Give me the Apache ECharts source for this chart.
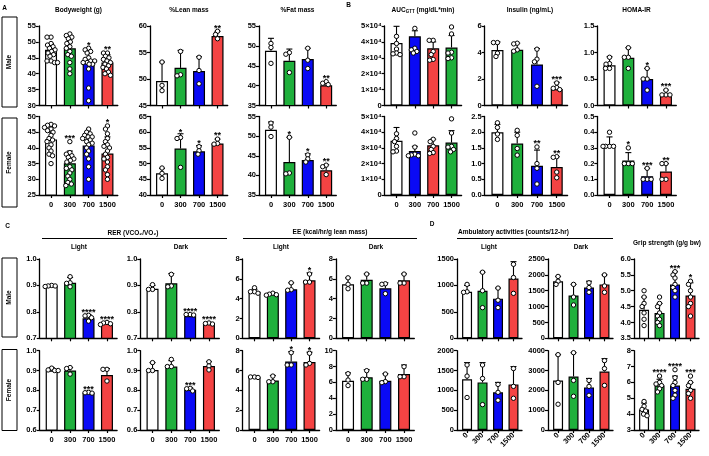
<!DOCTYPE html>
<html><head><meta charset="utf-8">
<script src="https://cdn.jsdelivr.net/npm/echarts@6/dist/echarts.min.js"></script>
<style>html,body{margin:0;padding:0;background:#fff}#c{width:709px;height:456px}</style>
</head><body><div id="c"></div>
<script>
// ---------- DATA ----------
const doses = ['0', '300', '700', '1500'];

// A  Bodyweight (g)
const bwM_mean = [47.5, 48, 44, 43.5];
const bwM_err  = [49.5, 51, 47.5, 46];
const bwM_pts  = [[51.5,51.5,49.5,49,48.5,48,47.5,47,46.5,46,45.5,44,43.5,44,43.5],
                  [52.5,52,51.5,51,50,49.5,48.5,48,47,46,45.5,43.5,41.5,40],
                  [48,47.5,47,46.5,45,44.5,44,44,43.5,43.5,43,43,41.5,35.5,31.5],
                  [46.5,46.5,45.5,45,44.5,44,43.5,43,42.5,42,41.5,40.5,40,39.5]];
const bwM_sig  = ['', '', '*', '**'];
const bwF_mean = [42.7, 35.1, 40.8, 38.2];
const bwF_err  = [45, 39, 43.5, 43.5];
const bwF_pts  = [[47.5,47.2,47,46.5,46,45.5,45,44,43,42.5,42,41,40,39,38,37.5,35],
                  [42,38.5,38,37.5,37,36.5,36,35.5,34,33.5,33,32,31,30,29,28.5,28],
                  [46,45,44.5,44,43.5,43.5,43,42.5,42,41.5,41,40,39,38,36.5,34,30],
                  [47,46,44.5,43,42,41,40.5,40,39,38,37,36.5,35.5,34,33,31.5,30]];
const bwF_sig  = ['', '***', '', '*'];
// %Lean mass
const lnM_mean = [49.6, 52.1, 51.5, 58.1];
const lnM_err  = [53.2, 55.4, 54.2, 59.0];
const lnM_pts  = [[53.2,48.8,47.8],[55.2,50.6,50.8],[54.1,51.6,49.1],[59,58.4,57.6]];
const lnM_sig  = ['', '', '', '**'];
const lnF_mean = [46.9, 54.8, 53.9, 56.4];
const lnF_err  = [48.5, 59.5, 55.7, 57.8];
const lnF_pts  = [[48.6,46.9,45.3],[58.3,58,48.8],[55.4,54.1,53],[57.8,56.4,56.2]];
const lnF_sig  = ['', '*', '*', '**'];
// %Fat mass
const ftM_mean = [48.75, 46.25, 46.7, 40.1];
const ftM_err  = [51.9, 49.2, 49.4, 40.8];
const ftM_pts  = [[50.6,49.6,45.6],[48.3,47.9,43.3],[49.4,46.4,44.3],[41,40.6,40.25]];
const ftM_sig  = ['', '', '', '**'];
const ftF_mean = [51.6, 43.4, 43.9, 41.3];
const ftF_err  = [53.6, 49.7, 45.5, 42.7];
const ftF_pts  = [[53.3,52.3,49.9],[49.7,40.4,40.6],[45.2,44.2,43.4],[42.6,42.2,40.2]];
const ftF_sig  = ['', '*', '*', '**'];

// B  AUC GTT (mg/dL*min)
const aucM_mean = [39300, 43500, 36000, 36500];
const aucM_err  = [49800, 47000, 40000, 44000];
const aucM_pts  = [[43500,39000,35500,32500,32000,33000],[48500,35000,34000,33000,36000],
                   [41000,41000,34000,32000,29000,28500],[49400,45000,33500,33000,30000,29500]];
const aucM_sig  = ['', '', '', ''];
const aucF_mean = [34500, 28000, 31700, 33400];
const aucF_err  = [43000, 31000, 35500, 41000];
const aucF_pts  = [[39000,36000,34000,31000,28000,27500],[39500,30500,25500,25000,25000,26000],
                   [35500,34000,31000,29000,27000,26500],[48500,39500,31000,30500,29000,27500]];
const aucF_sig  = ['', '', '', ''];
// Insulin (ng/mL)
const insM_mean = [4.18, 4.2, 3.1, 1.25];
const insM_err  = [4.8, 4.7, 4.3, 1.75];
const insM_pts  = [[4.75,4.75,3.95,3.7],[4.7,4.65,4.2,4.1],[4.25,3.5,3.3,1.45],[1.7,1.35,1.3,1.2]];
const insM_sig  = ['', '', '', '***'];
const insF_mean = [2.0, 1.64, 0.93, 0.89];
const insF_err  = [2.25, 2.0, 1.43, 1.22];
const insF_pts  = [[2.3,2.15,1.94,1.77],[2.06,1.9,1.48,1.27],[1.53,1.0,0.85,0.35],[1.22,1.2,0.73,0.55]];
const insF_sig  = ['', '', '**', '**'];
// HOMA-IR
const hoM_mean = [0.76, 0.9, 0.5, 0.21];
const hoM_err  = [0.92, 1.09, 0.7, 0.29];
const hoM_pts  = [[0.91,0.79,0.78,0.7,0.7],[1.09,0.91,0.91,0.7],[0.7,0.5,0.5,0.29],[0.29,0.2,0.2,0.2]];
const hoM_sig  = ['', '', '*', '***'];
const hoF_mean = [0.32, 0.22, 0.12, 0.15];
const hoF_err  = [0.37, 0.27, 0.17, 0.2];
const hoF_pts  = [[0.4,0.31,0.31,0.31,0.31],[0.3,0.2,0.2,0.2],[0.17,0.1,0.1,0.1],[0.2,0.2,0.1,0.1]];
const hoF_sig  = ['', '*', '***', '**'];

// C  RER (VCO2/VO2)
const rlM_mean = [0.898, 0.91, 0.776, 0.757];
const rlM_err  = [0.902, 0.93, 0.79, 0.762];
const rlM_pts  = [[0.9,0.898,0.896,0.898],[0.933,0.908,0.91,0.895],[0.787,0.785,0.778,0.765],[0.76,0.758,0.755,0.752]];
const rlM_sig  = ['', '', '****', '****'];
const rdM_mean = [0.887, 0.908, 0.784, 0.755];
const rdM_err  = [0.9, 0.945, 0.79, 0.76];
const rdM_pts  = [[0.903,0.885,0.885],[0.942,0.898,0.895],[0.79,0.79,0.788],[0.758,0.756,0.754]];
const rdM_sig  = ['', '', '****', '****'];
const rlF_mean = [0.9, 0.9, 0.788, 0.877];
const rlF_err  = [0.915, 0.915, 0.795, 0.91];
const rlF_pts  = [[0.912,0.903,0.9,0.9],[0.915,0.91,0.882],[0.79,0.788,0.786],[0.906,0.906,0.847]];
const rlF_sig  = ['', '', '***', ''];
const rdF_mean = [0.903, 0.92, 0.803, 0.923];
const rdF_err  = [0.94, 0.95, 0.813, 0.945];
const rdF_pts  = [[0.94,0.9,0.9],[0.956,0.92,0.92],[0.81,0.808,0.797],[0.944,0.923,0.903]];
const rdF_sig  = ['', '', '***', ''];
// EE (kcal/hr/g lean mass)
const elM_mean = [4.7, 4.45, 4.95, 5.85];
const elM_err  = [4.95, 4.6, 5.6, 6.6];
const elM_pts  = [[5.1,4.7,4.7,4.55],[4.55,4.45,4.4,4.35],[5.6,4.9,4.85],[6.48,5.67,5.67]];
const elM_sig  = ['', '', '', '*'];
const edM_mean = [5.45, 5.9, 5.05, 5.85];
const edM_err  = [6.1, 6.5, 5.6, 6.5];
const edM_pts  = [[6.1,5.45,5.0],[6.48,5.57,5.57],[5.5,5.45,4.5],[6.48,5.57,5.57]];
const edM_sig  = ['', '', '', ''];
const elF_mean = [5.35, 5.0, 6.9, 6.85];
const elF_err  = [5.45, 5.5, 7.9, 7.85];
const elF_pts  = [[5.35,5.35,5.3],[5.44,4.87,4.87],[7.8,6.56,6.56],[7.74,6.56,6.72]];
const elF_sig  = ['', '', '*', '*'];
const edF_mean = [6.2, 6.65, 6.2, 7.05];
const edF_err  = [7.2, 7.6, 7.1, 8.2];
const edF_pts  = [[7.1,6.3,5.6],[7.48,6.4,6.4],[7.06,5.97,6.1],[7.98,6.72,6.72]];
const edF_sig  = ['', '', '', ''];

// D  Ambulatory activities (counts/12-hr) & Grip strength (g/g bw)
const alM_mean = [880, 900, 750, 1130];
const alM_err  = [1000, 1250, 950, 1450];
const alM_pts  = [[1020,880,870],[1250,900,580],[950,720,580],[1400,1150,850]];
const alM_sig  = ['', '', '', ''];
const adM_mean = [1800, 1350, 1600, 1700];
const adM_err  = [1950, 1700, 1800, 2000];
const adM_pts  = [[1950,1800,1700],[1700,1300,1050],[1750,1600,1450],[2000,1650,1450]];
const adM_sig  = ['', '', '', ''];
const grM_mean = [4.4, 4.3, 5.2, 4.85];
const grM_err  = [4.8, 4.6, 5.6, 5.25];
const grM_pts  = [[5.0,4.8,4.6,4.5,4.3,4.1,3.9],[4.8,4.6,4.5,4.3,4.2,4.1,4.0,3.9],
                  [5.6,5.5,5.4,5.2,5.1,5.0,4.8],[5.3,5.2,5.0,4.8,4.6,4.5,4.2]];
const grM_sig  = ['', '', '***', '*'];
const alF_mean = [1280, 1200, 950, 1150];
const alF_err  = [1700, 1700, 1200, 1600];
const alF_pts  = [[1640,1360,820],[1640,1300,640],[1150,950,750],[1550,1100,800]];
const alF_sig  = ['', '', '', ''];
const adF_mean = [2500, 2700, 2150, 2950];
const adF_err  = [3800, 3900, 2600, 3600];
const adF_pts  = [[3800,2400,1300],[3900,2500,1700],[2500,2200,1750],[3500,3100,2250]];
const adF_sig  = ['', '', '', ''];
const grF_mean = [4.3, 5.8, 5.8, 5.6];
const grF_err  = [4.7, 6.2, 6.4, 6.0];
const grF_pts  = [[4.8,4.5,4.3,4.2,4.0,3.9],[6.4,6.0,5.9,5.8,5.6,5.4],
                  [6.8,6.3,6.0,5.8,5.5,5.2,5.0],[6.4,6.0,5.8,5.5,5.3,5.0]];
const grF_sig  = ['', '****', '****', '***'];

// ---------- STYLE / LAYOUT ----------
const FONT = '"Liberation Sans", Arial, sans-serif';
const WHITE = '#ffffff', GREEN = '#1fb03c', BLUE = '#0a0af5', RED = '#f44343';
const COL = [WHITE, GREEN, BLUE, RED];
const COL_AUC = [WHITE, BLUE, RED, GREEN];
const rows = {A1: [26, 79.5], A2: [116.5, 78.5], C1: [259, 79.3], C2: [350.7, 79.3]};

function pan(x, w, r, ymin, ymax, step, m, e, d, s, extra) {
  return Object.assign({x, w, r, ymin, ymax, step, m, e, d, s, fmt: 0, col: COL, xl: false, bw: 12}, extra || {});
}
const P = [
  pan(38.8, 79, 'A1', 30, 55, 5, bwM_mean, bwM_err, bwM_pts, bwM_sig),
  pan(38.8, 79, 'A2', 25, 50, 5, bwF_mean, bwF_err, bwF_pts, bwF_sig, {xl: true}),
  pan(150, 77.7, 'A1', 45, 60, 5, lnM_mean, lnM_err, lnM_pts, lnM_sig),
  pan(150, 77.7, 'A2', 40, 65, 5, lnF_mean, lnF_err, lnF_pts, lnF_sig, {xl: true}),
  pan(259, 77.3, 'A1', 35, 55, 5, ftM_mean, ftM_err, ftM_pts, ftM_sig),
  pan(259, 77.3, 'A2', 35, 55, 5, ftF_mean, ftF_err, ftF_pts, ftF_sig, {xl: true}),
  pan(384.6, 77, 'A1', 0, 50000, 10000, aucM_mean, aucM_err, aucM_pts, aucM_sig, {fmt: 'sci', col: COL_AUC}),
  pan(384.6, 77, 'A2', 0, 50000, 10000, aucF_mean, aucF_err, aucF_pts, aucF_sig, {fmt: 'sci', col: COL_AUC, xl: true}),
  pan(484.6, 83, 'A1', 0, 6, 2, insM_mean, insM_err, insM_pts, insM_sig),
  pan(484.6, 83, 'A2', 0, 2.5, 0.5, insF_mean, insF_err, insF_pts, insF_sig, {fmt: 1, xl: true}),
  pan(597.3, 79, 'A1', 0, 1.5, 0.5, hoM_mean, hoM_err, hoM_pts, hoM_sig, {fmt: 1}),
  pan(597.3, 79, 'A2', 0, 0.5, 0.1, hoF_mean, hoF_err, hoF_pts, hoF_sig, {fmt: 1, xl: true}),
  pan(39.7, 77.4, 'C1', 0.7, 1.0, 0.1, rlM_mean, rlM_err, rlM_pts, rlM_sig, {fmt: 1}),
  pan(39.7, 77.4, 'C2', 0.6, 1.0, 0.1, rlF_mean, rlF_err, rlF_pts, rlF_sig, {fmt: 1, xl: true}),
  pan(140.3, 79, 'C1', 0.7, 1.0, 0.1, rdM_mean, rdM_err, rdM_pts, rdM_sig, {fmt: 1}),
  pan(140.3, 79, 'C2', 0.6, 1.0, 0.1, rdF_mean, rdF_err, rdF_pts, rdF_sig, {fmt: 1, xl: true}),
  pan(242.6, 77, 'C1', 0, 8, 2, elM_mean, elM_err, elM_pts, elM_sig),
  pan(242.6, 77, 'C2', 0, 8, 2, elF_mean, elF_err, elF_pts, elF_sig, {xl: true}),
  pan(335.9, 78.4, 'C1', 0, 8, 2, edM_mean, edM_err, edM_pts, edM_sig),
  pan(335.9, 78.4, 'C2', 0, 10, 2, edF_mean, edF_err, edF_pts, edF_sig, {xl: true}),
  pan(457, 65, 'C1', 0, 1500, 500, alM_mean, alM_err, alM_pts, alM_sig, {bw: 10}),
  pan(457, 65, 'C2', 0, 2000, 500, alF_mean, alF_err, alF_pts, alF_sig, {bw: 10, xl: 'rot'}),
  pan(548, 65, 'C1', 0, 2500, 500, adM_mean, adM_err, adM_pts, adM_sig, {bw: 10}),
  pan(548, 65, 'C2', 0, 4000, 1000, adF_mean, adF_err, adF_pts, adF_sig, {bw: 10, xl: 'rot'}),
  pan(634, 65, 'C1', 3.5, 6.0, 0.5, grM_mean, grM_err, grM_pts, grM_sig, {bw: 10, fmt: 1}),
  pan(634, 65, 'C2', 3, 8, 1, grF_mean, grF_err, grF_pts, grF_sig, {bw: 10, xl: 'rot'})
];

function yFmt(fmt) {
  return function (v) {
    if (fmt === 'sci') return v === 0 ? '0' : Math.round(v / 10000) + '×10⁴';
    if (fmt === 1) return (+v).toFixed(1);
    return String(Math.round(v * 1000) / 1000);
  };
}

// place the dots of one group side by side where they would overlap (beeswarm inside the bar)
function swarm(ys, r, maxX) {
  const placed = [];
  const Dc = 1.6 * r;
  ys.forEach(y => {
    let best = 0, bestPen = Infinity;
    for (let c = 0; c <= maxX + 1e-6; c += 0.5) {
      for (const s of (c === 0 ? [0] : [-c, c])) {
        let pen = 0;
        placed.forEach(q => {
          const d = Math.hypot(q.x - s, q.y - y);
          if (d < Dc) pen += Dc - d;
        });
        if (pen < bestPen - 1e-6) { bestPen = pen; best = s; }
      }
      if (bestPen === 0) break;
    }
    placed.push({x: best, y});
  });
  return placed;
}

function makeRender(p) {
  return function (params, api) {
    const i = params.dataIndex;
    const base = api.coord([i, p.m[i]]);
    const top = api.coord([i, p.e[i]]);
    const ch = [];
    const cap = 3;
    if (p.e[i] > p.m[i]) {
      ch.push({type: 'line', shape: {x1: base[0], y1: base[1], x2: top[0], y2: top[1]}, style: {stroke: '#000', lineWidth: 1.1}});
      ch.push({type: 'line', shape: {x1: top[0] - cap, y1: top[1], x2: top[0] + cap, y2: top[1]}, style: {stroke: '#000', lineWidth: 1.1}});
    }
    const r = 2.2;
    const ys = p.d[i].slice().sort((a, b) => b - a).map(v => api.coord([i, v])[1]);
    const placed = swarm(ys, r, p.bw / 2 + 0.5);
    let minY = top[1];
    placed.forEach(q => {
      ch.push({type: 'circle', shape: {cx: base[0] + q.x, cy: q.y, r}, style: {fill: '#fff', stroke: '#000', lineWidth: 1}});
      minY = Math.min(minY, q.y - r);
    });
    if (p.s[i]) {
      ch.push({type: 'text', style: {text: p.s[i], x: base[0], y: minY + 3.5, align: 'center', textAlign: 'center',
        verticalAlign: 'bottom', textVerticalAlign: 'bottom', font: 'bold 9px ' + FONT, fill: '#000'}});
    }
    return {type: 'group', children: ch};
  };
}

const grid = [], xAxis = [], yAxis = [], series = [];
P.forEach((p, k) => {
  const rr = rows[p.r];
  grid.push({left: p.x, top: rr[0], width: p.w, height: rr[1]});
  xAxis.push({
    type: 'value', gridIndex: k, min: -0.65, max: 3.55,
    axisLine: {onZero: false, lineStyle: {color: '#000', width: 1.3}},
    axisTick: {show: true, customValues: [0, 1, 2, 3], length: 3, lineStyle: {color: '#000', width: 1.2}},
    axisLabel: {show: !!p.xl, customValues: [0, 1, 2, 3], formatter: v => doses[Math.round(v)] || '',
      rotate: p.xl === 'rot' ? 45 : 0, margin: p.xl === 'rot' ? 4 : 6,
      fontFamily: FONT, fontWeight: 'bold', fontSize: 7.5, color: '#000'},
    splitLine: {show: false}
  });
  yAxis.push({
    type: 'value', gridIndex: k, min: p.ymin, max: p.ymax, interval: p.step,
    axisLine: {show: true, onZero: false, lineStyle: {color: '#000', width: 1.3}},
    axisTick: {show: true, length: 3, lineStyle: {color: '#000', width: 1.2}},
    axisLabel: {formatter: yFmt(p.fmt), margin: 3, fontFamily: FONT, fontWeight: 'bold', fontSize: 7.5, color: '#000'},
    splitLine: {show: false}
  });
  series.push({
    type: 'bar', xAxisIndex: k, yAxisIndex: k, barWidth: p.bw, clip: true, z: 2,
    itemStyle: {borderColor: '#000', borderWidth: 1.2},
    data: p.m.map((m, i) => ({value: [i, m], itemStyle: {color: p.col[i]}})),
    animation: false
  });
  series.push({
    type: 'custom', xAxisIndex: k, yAxisIndex: k, z: 3, clip: false,
    renderItem: makeRender(p),
    data: p.m.map((m, i) => [i, m]),
    animation: false
  });
});

// ---------- annotations ----------
const G = [];
const ctx = document.createElement('canvas').getContext('2d');
function tw(t, f) { ctx.font = f; return ctx.measureText(t).width; }
function txt(t, x, y, size, opt) {
  opt = opt || {};
  G.push({type: 'text', x, y, rotation: opt.rot || 0, z: 10,
    style: {text: t, x: 0, y: 0, font: 'bold ' + size + 'px ' + FONT, fill: '#000',
      align: opt.align || 'center', textAlign: opt.align || 'center',
      verticalAlign: 'middle', textVerticalAlign: 'middle'}});
}
function line(x1, y1, x2, y2) {
  G.push({type: 'line', z: 10, shape: {x1, y1, x2, y2}, style: {stroke: '#000', lineWidth: 1}});
}
function box(x, y, w, h, label) {
  G.push({type: 'rect', z: 10, shape: {x, y, width: w, height: h}, style: {fill: 'none', stroke: '#000', lineWidth: 1}});
  txt(label, x + w / 2, y + h / 2, 6.5, {rot: Math.PI / 2});
}
// panel letters
txt('A', 4.5, 8, 6.5); txt('B', 348.5, 5.5, 6.5); txt('C', 7.5, 226.5, 6.5); txt('D', 432, 224.5, 6.5);
// A/B titles
txt('Bodyweight (g)', 78.5, 10, 6.5);
txt('%Lean mass', 189, 10, 6.5);
txt('%Fat mass', 297.5, 10, 6.5);
(function () {
  const f1 = 'bold 6.5px ' + FONT, f2 = 'bold 4.5px ' + FONT;
  const a = 'AUC', b = 'GTT', c = ' (mg/dL*min)';
  const w = tw(a, f1) + tw(b, f2) + tw(c, f1);
  let x0 = 423 - w / 2;
  txt(a, x0, 10, 6.5, {align: 'left'}); x0 += tw(a, f1);
  txt(b, x0, 12, 4.5, {align: 'left'}); x0 += tw(b, f2);
  txt(c, x0, 10, 6.5, {align: 'left'});
})();
txt('Insulin (ng/mL)', 530, 10, 6.5);
txt('HOMA-IR', 636.5, 10, 6.5);
box(2, 17, 15, 90, 'Male');
box(2, 118, 15, 89, 'Female');
// C titles
txt('RER (VCO₂/VO₂)', 133, 233, 6.5);
line(42, 238.5, 227, 238.5);
txt('Light', 79, 247, 6.5); txt('Dark', 181, 247, 6.5);
txt('EE (kcal/hr/g lean mass)', 330, 232.5, 6.5);
line(243, 238.5, 417, 238.5);
txt('Light', 281, 247, 6.5); txt('Dark', 376, 247, 6.5);
box(2, 258, 15, 79, 'Male');
box(2, 349.5, 15, 81, 'Female');
// D titles
txt('Ambulatory activities (counts/12-hr)', 458, 232.5, 6.5, {align: 'left'});
line(457, 238.5, 613, 238.5);
txt('Light', 489, 247, 6.5); txt('Dark', 581, 247, 6.5);
txt('Grip strength (g/g bw)', 667, 243, 6.5);

const chart = echarts.init(document.getElementById('c'), null, {renderer: 'canvas'});
chart.setOption({animation: false, backgroundColor: '#fff', grid, xAxis, yAxis, series, graphic: {elements: G}});
</script>
</body></html>
